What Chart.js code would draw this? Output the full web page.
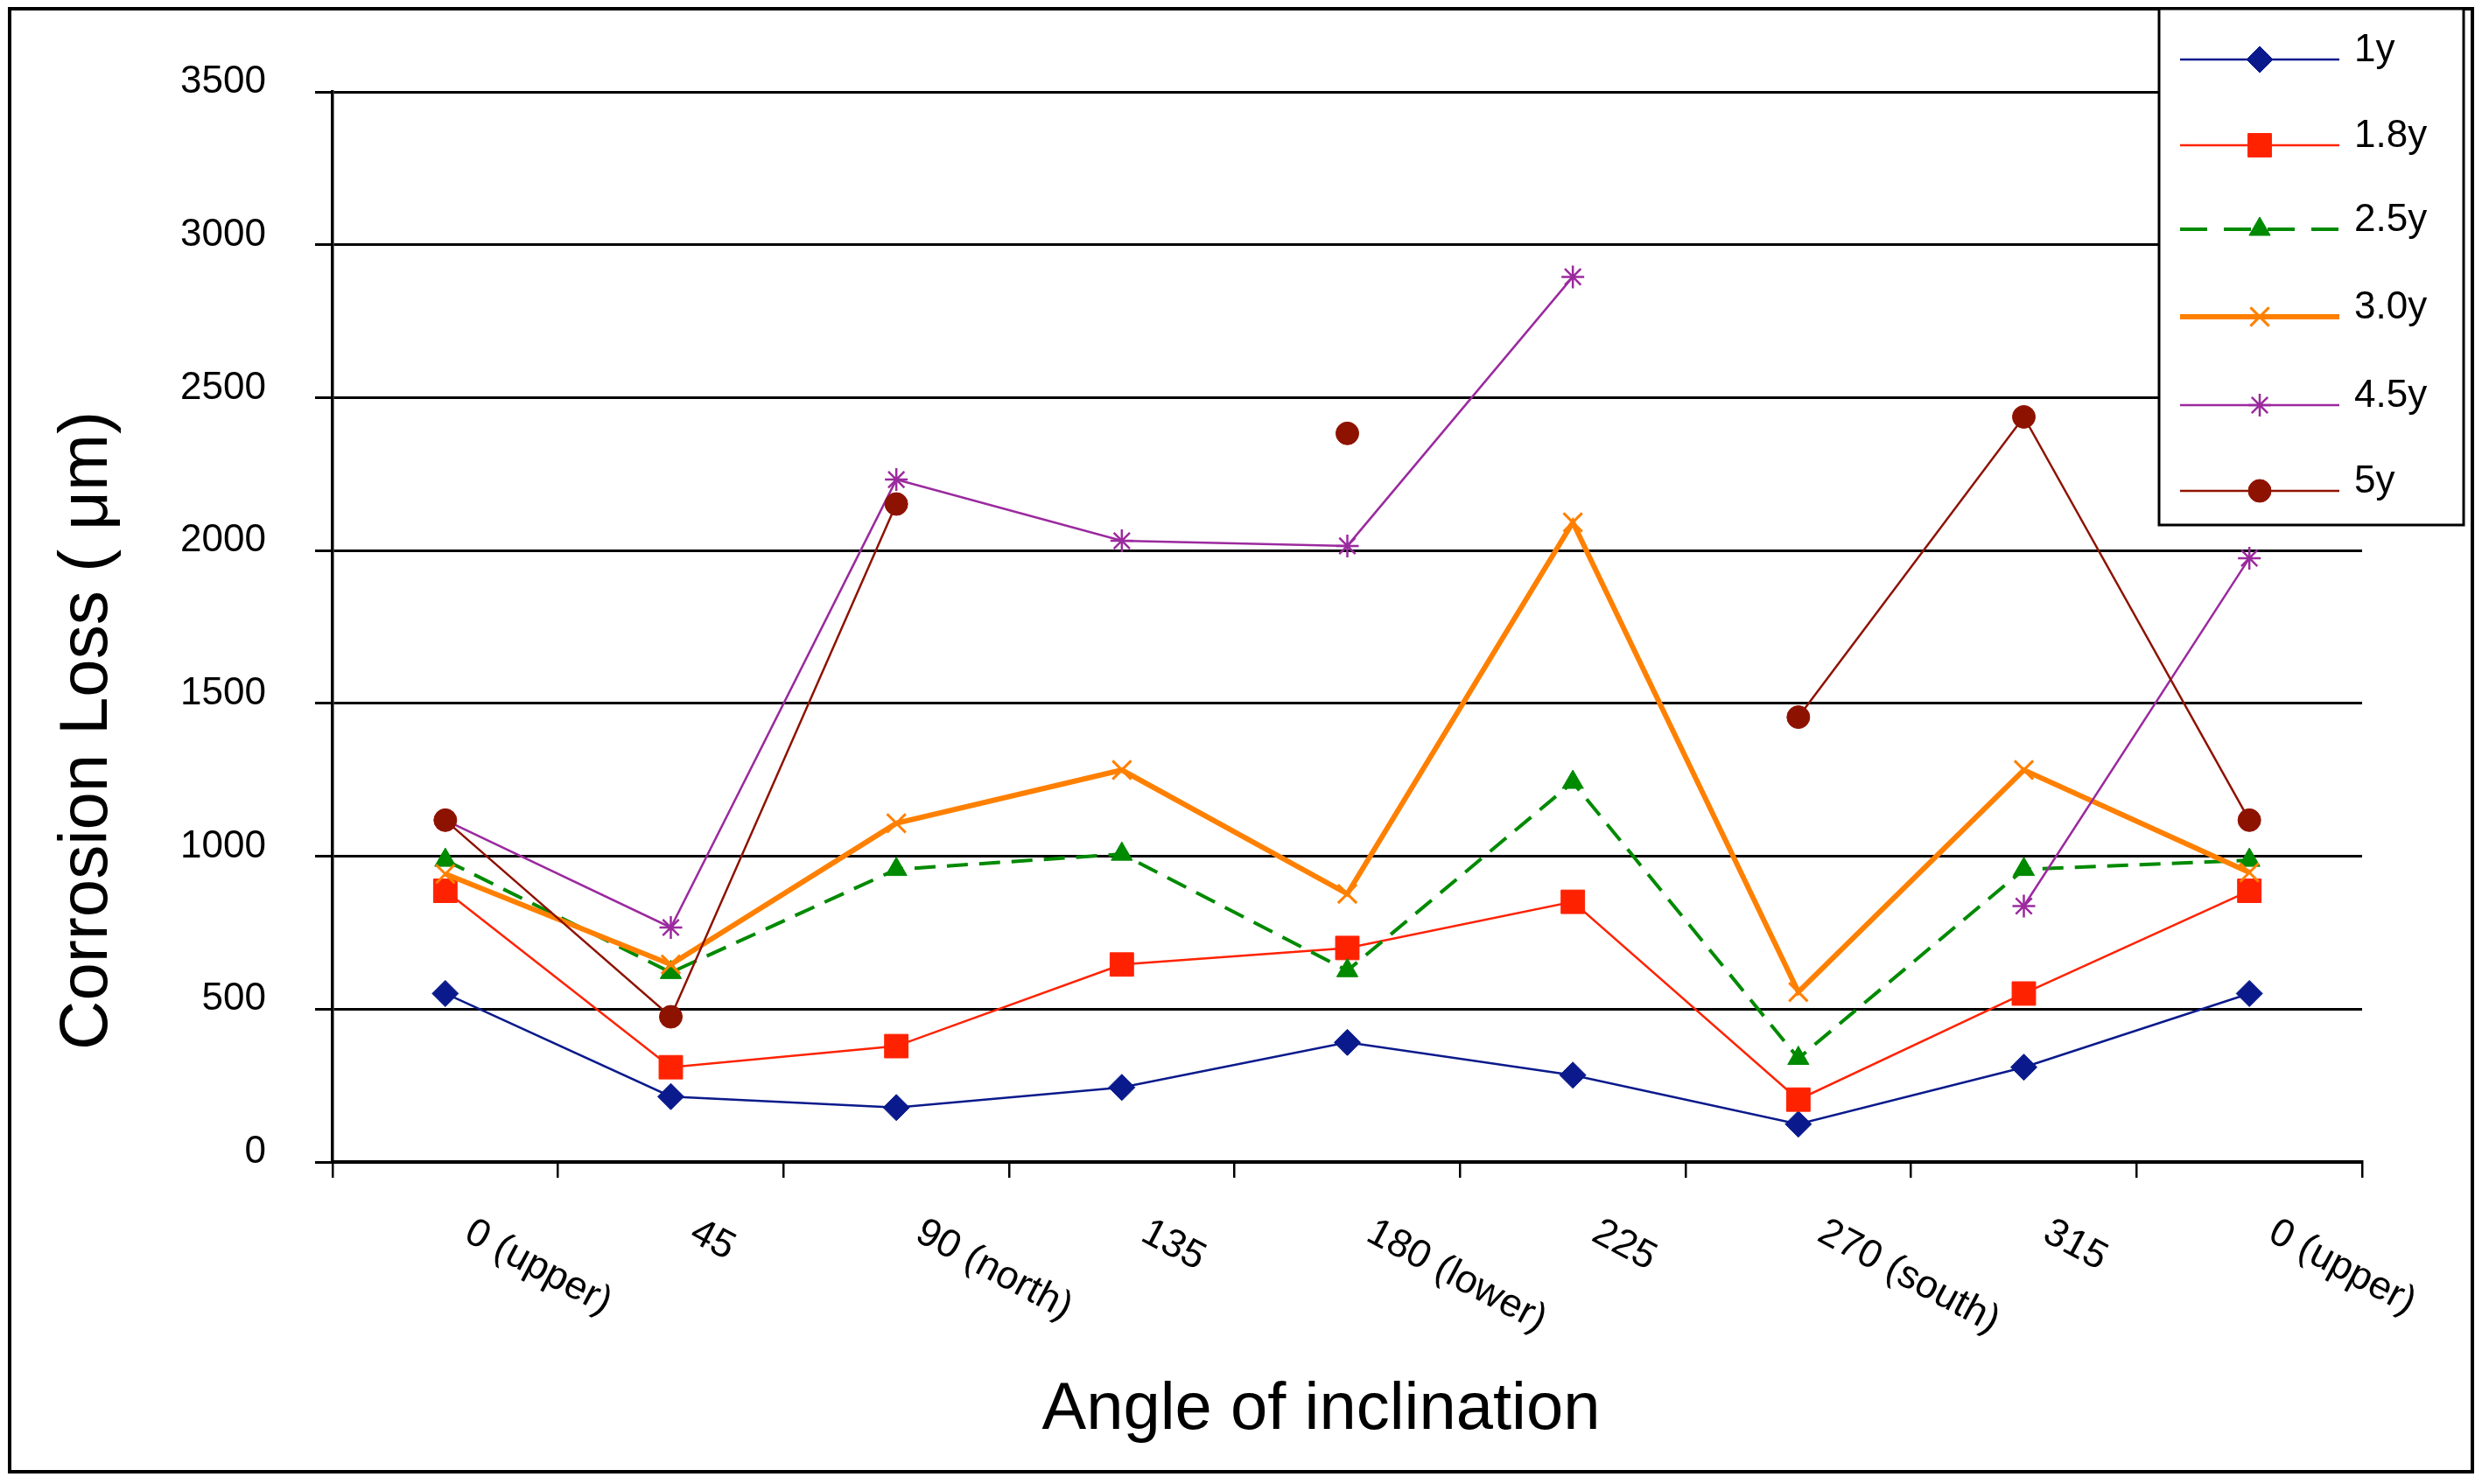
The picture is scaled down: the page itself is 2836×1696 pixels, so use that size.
<!DOCTYPE html>
<html>
<head>
<meta charset="utf-8">
<script src="https://cdn.jsdelivr.net/npm/chart.js@4.4.0/dist/chart.umd.min.js"></script>
<style>
  html, body { margin: 0; padding: 0; background: #fff; }
  #wrap { width: 2836px; height: 1696px; }
</style>
</head>
<body>
<div id="wrap"><canvas id="lossChart" width="2836" height="1696"></canvas></div>
<script>
// Angle categories along the x axis
const angles = ['0 (upper)', '45', '90 (north)', '135', '180 (lower)', '225', '270 (south)', '315', '0 (upper)'];

const loss1y = [551, 214, 178, 244, 391, 284, 124, 310, 551];
const loss18y = [887, 310, 379, 646, 700, 851, 204, 551, 887];
const loss25y = [987, 620, 957, 1007, 626, 1242, 339, 957, 987];
const loss30y = [942, 646, 1108, 1282, 877, 2092, 556, 1282, 947];
const loss45y = [1118, 767, 2232, 2032, 2015, 2895, null, 837, 1975];
const loss5y = [1118, 475, 2152, null, 2383, null, 1455, 2437, 1118];

const seriesLabels = ['1y', '1.8y', '2.5y', '3.0y', '4.5y', '5y'];
const yMax = 3500;
const yStep = 500;

const FONT = '"Liberation Sans", Arial, Helvetica, sans-serif';

const makeSet = (label, data, color, style, radius, width, extra) => Object.assign({
  label: label,
  data: data,
  borderColor: color,
  backgroundColor: color,
  borderWidth: width,
  pointStyle: style,
  pointRadius: radius,
  pointHoverRadius: radius,
  pointBackgroundColor: color,
  pointBorderColor: color,
  pointBorderWidth: 1,
  tension: 0,
  spanGaps: false,
}, extra || {});

const datasets = [
  makeSet(seriesLabels[0], loss1y, '#0A1A8C', 'rectRot', 15, 2.5, { order: 5 }),
  makeSet(seriesLabels[1], loss18y, '#FF2200', 'rect', 19, 2.5, { order: 4 }),
  makeSet(seriesLabels[2], loss25y, '#008A00', 'triangle', 14, 4, { order: 3, borderDash: [24, 13] }),
  makeSet(seriesLabels[3], loss30y, '#FF8000', 'crossRot', 15, 6, { order: 2, pointBorderWidth: 3 }),
  makeSet(seriesLabels[4], loss45y, '#9B2A9E', 'star', 13, 2.5, { order: 1, pointBorderWidth: 2.5 }),
  makeSet(seriesLabels[5], loss5y, '#8E1200', 'circle', 13, 2.5, { order: 0 }),
];

// Draws the frame, slanted angle labels, axis titles and the boxed legend
const decorations = {
  id: 'decorations',
  afterDraw(chart) {
    const ctx = chart.ctx;
    const area = chart.chartArea;
    const xScale = chart.scales.x;

    ctx.save();

    // outer frame
    ctx.strokeStyle = '#000';
    ctx.lineWidth = 4;
    ctx.strokeRect(11, 10, 2814, 1672);

    // slanted category labels
    ctx.fillStyle = '#000';
    ctx.font = '45px ' + FONT;
    ctx.textAlign = 'left';
    ctx.textBaseline = 'top';
    angles.forEach((txt, i) => {
      const px = xScale.getPixelForValue(i);
      ctx.save();
      ctx.translate(px + 36, area.bottom + 58);
      ctx.rotate(28 * Math.PI / 180);
      ctx.fillText(txt, 0, 0);
      ctx.restore();
    });

    // axis titles
    ctx.font = '76px ' + FONT;
    ctx.textAlign = 'center';
    ctx.textBaseline = 'alphabetic';
    ctx.fillText('Angle of inclination', (area.left + area.right) / 2 - 30, 1633);

    ctx.save();
    ctx.translate(122, 835);
    ctx.rotate(-Math.PI / 2);
    ctx.font = '78px ' + FONT;
    ctx.fillText('Corrosion Loss ( \u03bcm)', 0, 0);
    ctx.restore();

    // legend box
    const box = { x: 2467, y: 10, w: 348, h: 590 };
    ctx.fillStyle = '#fff';
    ctx.fillRect(box.x, box.y, box.w, box.h);
    ctx.strokeStyle = '#000';
    ctx.lineWidth = 3;
    ctx.strokeRect(box.x, box.y, box.w, box.h);

    const rows = [68, 166, 262, 362, 463, 561];
    chart.data.datasets.forEach((ds, i) => {
      const y = rows[i];
      ctx.save();
      ctx.strokeStyle = ds.borderColor;
      ctx.lineWidth = ds.borderWidth;
      ctx.setLineDash(ds.borderDash ? [31, 19] : []);
      ctx.beginPath();
      ctx.moveTo(2491, y);
      ctx.lineTo(2673, y);
      ctx.stroke();
      ctx.setLineDash([]);
      ctx.fillStyle = ds.pointBackgroundColor;
      ctx.strokeStyle = ds.pointBorderColor;
      ctx.lineWidth = ds.pointBorderWidth;
      Chart.helpers.drawPoint(ctx, {
        pointStyle: ds.pointStyle,
        radius: ds.pointRadius,
        borderWidth: ds.pointBorderWidth,
        rotation: 0,
      }, 2582, y);
      ctx.restore();

      ctx.fillStyle = '#000';
      ctx.font = '44px ' + FONT;
      ctx.textAlign = 'left';
      ctx.textBaseline = 'alphabetic';
      ctx.fillText(ds.label, 2690, y + 2);
    });

    ctx.restore();
  }
};

const ctx = document.getElementById('lossChart').getContext('2d');
new Chart(ctx, {
  type: 'line',
  data: {
    labels: angles,
    datasets: datasets,
  },
  options: {
    responsive: false,
    animation: false,
    devicePixelRatio: 1,
    layout: {
      padding: { top: 105, right: 137, bottom: 0, left: 0 },
    },
    plugins: {
      legend: { display: false },
      tooltip: { enabled: false },
    },
    scales: {
      x: {
        type: 'category',
        offset: true,
        grid: {
          offset: true,
          drawOnChartArea: false,
          drawTicks: true,
          tickLength: 18,
          color: '#000',
          lineWidth: 2.5,
        },
        border: { display: true, color: '#000', width: 4 },
        ticks: { display: false },
        afterFit: (scale) => { scale.height = 368; },
      },
      y: {
        min: 0,
        max: yMax,
        ticks: {
          stepSize: yStep,
          color: '#000',
          padding: 56,
          labelOffset: -11,
          font: { family: FONT, size: 44 },
          callback: (value) => String(value),
        },
        grid: {
          color: '#000',
          lineWidth: 3,
          tickLength: 20,
          drawTicks: true,
        },
        border: { display: true, color: '#000', width: 3.5 },
        afterFit: (scale) => { scale.width = 380; },
      },
    },
  },
  plugins: [decorations],
});
</script>
</body>
</html>
